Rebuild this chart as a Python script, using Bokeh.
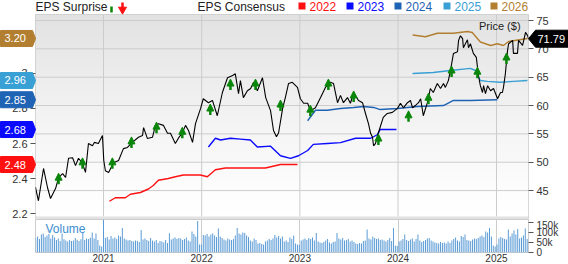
import numpy as np
import pandas as pd
from bokeh.plotting import figure
from bokeh.layouts import column
from bokeh.core.properties import value
from bokeh.models import (Range1d, LinearAxis, FixedTicker, CustomJSTickFormatter,
                          DatetimeTickFormatter, Label, Arrow, NormalHead,
                          ColumnDataSource, Legend, LegendItem)
from bokeh.embed import file_html
from bokeh.resources import INLINE

# ---------------- data ----------------
price_dates = [
    "2020-04-23", "2020-05-04", "2020-05-23", "2020-06-07", "2020-06-18", "2020-07-07", "2020-07-18", "2020-08-02", "2020-08-13", "2020-08-24",
    "2020-09-08", "2020-09-19", "2020-09-30", "2020-10-15", "2020-10-26", "2020-11-06", "2020-11-21", "2020-11-28", "2020-12-13", "2020-12-28",
    "2021-01-02", "2021-01-08", "2021-01-20", "2021-02-07", "2021-02-26", "2021-03-16", "2021-03-31", "2021-04-18", "2021-05-11", "2021-05-26",
    "2021-05-30", "2021-06-13", "2021-07-02", "2021-07-13", "2021-07-24", "2021-08-12", "2021-08-27", "2021-09-07", "2021-09-25", "2021-10-06",
    "2021-10-21", "2021-11-02", "2021-11-13", "2021-11-28", "2021-12-09", "2021-12-28", "2022-01-07", "2022-01-26", "2022-02-10", "2022-02-28",
    "2022-03-19", "2022-04-07", "2022-04-26", "2022-05-06", "2022-05-18", "2022-05-25", "2022-06-05", "2022-06-20", "2022-07-02", "2022-07-13",
    "2022-07-27", "2022-08-15", "2022-08-27", "2022-09-14", "2022-09-25", "2022-10-06", "2022-10-14", "2022-10-29", "2022-11-08", "2022-11-20",
    "2022-12-04", "2022-12-23", "2023-01-03", "2023-01-15", "2023-01-30", "2023-02-09", "2023-02-28", "2023-03-19", "2023-04-06", "2023-04-25",
    "2023-05-06", "2023-05-21", "2023-06-01", "2023-06-12", "2023-06-27", "2023-07-08", "2023-07-20", "2023-08-07", "2023-08-22", "2023-09-02",
    "2023-09-13", "2023-09-21", "2023-09-28", "2023-10-02", "2023-10-09", "2023-10-20", "2023-11-07", "2023-11-22", "2023-12-11", "2023-12-30",
    "2024-01-10", "2024-01-21", "2024-02-05", "2024-02-16", "2024-02-24", "2024-03-05", "2024-03-17", "2024-03-25", "2024-04-04", "2024-04-19",
    "2024-04-30", "2024-05-11", "2024-05-26", "2024-06-07", "2024-06-18", "2024-06-25", "2024-07-06", "2024-07-14", "2024-07-25", "2024-08-09",
    "2024-08-13", "2024-08-20", "2024-08-28", "2024-08-31", "2024-09-15", "2024-09-19", "2024-09-26", "2024-10-07", "2024-10-18", "2024-10-26",
    "2024-11-02", "2024-11-10", "2024-11-14", "2024-11-21", "2024-11-29", "2024-12-10", "2024-12-21", "2025-01-05", "2025-01-16", "2025-01-23",
    "2025-01-27", "2025-02-03", "2025-02-11", "2025-02-15", "2025-03-02", "2025-03-05", "2025-03-20", "2025-03-24", "2025-04-08", "2025-04-19",
    "2025-04-27", "2025-04-30",
]
price_values = [
    45.6, 43.2, 48.9, 45.5, 43.6, 45.4, 47.3, 48.0, 47.3, 50.7,
    50.8, 49.4, 50.7, 49.8, 48.2, 53.3, 52.9, 53.5, 53.3, 54.7,
    50.3, 48.5, 48.2, 49.9, 50.3, 52.4, 52.6, 53.5, 54.4, 54.7,
    56.1, 54.2, 54.4, 56.5, 56.8, 56.5, 55.1, 55.1, 53.3, 54.2,
    55.2, 56.5, 55.6, 53.5, 56.8, 59.5, 61.2, 60.5, 60.9, 58.2,
    62.3, 64.9, 65.3, 65.6, 62.1, 64.4, 61.4, 62.6, 63.0, 64.1,
    62.6, 64.9, 61.4, 59.1, 55.6, 54.5, 55.2, 59.5, 61.4, 63.9,
    64.1, 63.2, 61.2, 60.4, 60.4, 59.1, 59.6, 61.4, 63.2, 64.1,
    63.9, 60.5, 61.8, 60.5, 61.4, 60.4, 62.3, 60.9, 60.5, 58.6,
    56.8, 55.1, 54.4, 52.9, 53.3, 55.2, 57.9, 58.6, 58.8, 59.5,
    60.4, 59.6, 60.5, 60.9, 59.6, 60.0, 60.5, 61.2, 58.2, 60.5,
    63.0, 62.3, 63.9, 63.0, 63.9, 63.2, 64.4, 66.2, 69.2, 69.5,
    71.5, 72.3, 71.8, 70.2, 71.6, 70.2, 70.9, 69.2, 68.5, 65.3,
    63.5, 62.3, 63.5, 62.1, 63.5, 62.6, 63.0, 61.2, 62.3, 62.3,
    63.2, 65.6, 69.7, 70.9, 71.5, 69.2, 69.2, 71.5, 70.6, 72.9,
    72.3, 71.79,
]
last_price = 71.79

# EPS consensus by fiscal year
eps_2022_dates = ["2021-01-23", "2021-02-14", "2021-03-23", "2021-04-11", "2021-05-18", "2021-06-17", "2021-07-05",
                  "2021-07-24", "2021-08-30", "2021-09-25", "2021-10-25", "2021-12-01", "2021-12-27", "2022-01-22",
                  "2022-02-21", "2022-03-30", "2022-05-25", "2022-07-20", "2022-08-26", "2022-10-21", "2022-12-23"]
eps_2022 = [2.27, 2.29, 2.29, 2.31, 2.32, 2.34, 2.36, 2.39, 2.40, 2.41, 2.42, 2.42, 2.42, 2.41,
            2.45, 2.46, 2.46, 2.46, 2.46, 2.48, 2.48]

eps_2023_dates = ["2022-01-26", "2022-02-21", "2022-03-12", "2022-04-18", "2022-05-25", "2022-07-01", "2022-07-27",
                  "2022-09-14", "2022-10-21", "2022-11-27", "2022-12-27", "2023-01-30", "2023-02-20", "2023-04-13",
                  "2023-06-01", "2023-07-27", "2023-09-21", "2023-10-16", "2023-10-27", "2023-12-26"]
eps_2023 = [2.58, 2.63, 2.62, 2.63, 2.625, 2.62, 2.58, 2.585, 2.53, 2.515, 2.53, 2.56, 2.595, 2.60,
            2.605, 2.63, 2.63, 2.65, 2.68, 2.68]

eps_2024_dates = ["2023-01-30", "2023-02-28", "2023-04-13", "2023-06-01", "2023-07-20", "2023-08-26", "2023-10-02",
                  "2023-10-27", "2023-12-30", "2024-03-13", "2024-06-18", "2024-07-25", "2024-09-26", "2025-01-04"]
eps_2024 = [2.73, 2.79, 2.79, 2.80, 2.806, 2.811, 2.806, 2.794, 2.80, 2.811, 2.817, 2.846, 2.846, 2.85]

eps_2025_dates = ["2024-02-24", "2024-05-11", "2024-07-14", "2024-09-26", "2024-10-15", "2024-11-02", "2024-11-28",
                  "2025-01-15", "2025-03-05", "2025-04-26"]
eps_2025 = [3.00, 3.006, 3.017, 3.029, 3.017, 2.96, 2.955, 2.95, 2.955, 2.96]

eps_2026_dates = ["2024-02-24", "2024-04-12", "2024-05-26", "2024-07-25", "2024-09-15", "2024-10-03", "2024-11-02",
                  "2024-12-10", "2025-01-04", "2025-01-27", "2025-02-15", "2025-04-26"]
eps_2026 = [3.22, 3.21, 3.23, 3.23, 3.24, 3.234, 3.18, 3.16, 3.17, 3.16, 3.183, 3.20]

consensus_years = ["2022", "2023", "2024", "2025", "2026"]
consensus_latest = [2.48, 2.68, 2.85, 2.96, 3.20]

# positive EPS surprises (report date, price level of the marker)
surprise_dates = ["2020-07-18", "2020-10-15", "2021-02-03", "2021-04-15", "2021-07-17", "2021-10-21", "2022-02-02",
                  "2022-04-18", "2022-07-20", "2022-10-21", "2023-02-09", "2023-04-17", "2023-07-20", "2023-10-20",
                  "2024-02-09", "2024-04-23", "2024-07-18", "2024-10-22", "2025-02-07"]
surprise_prices = [47.1, 49.8, 49.8, 53.5, 56.1, 55.2, 59.3, 63.7, 63.7, 60.0, 59.1, 63.7, 61.6, 54.0,
                   58.1, 61.2, 66.0, 65.8, 68.3]

# weekly volume (thousands of shares), weeks starting 2020-04-24
volume_start = "2020-04-24"
volume_k = [
    72, 80, 68, 90, 95, 78, 85, 92, 70, 88,
    75, 62, 70, 58, 95, 66, 60, 55, 62, 58,
    60, 72, 64, 58, 66, 98, 62, 70, 68, 74,
    100, 70, 95, 62, 35, 30,
    165,
    72, 78, 65, 82, 70, 75, 68, 85, 80, 122,
    70, 65, 60, 62, 58, 55, 60, 58, 52, 112,
    65, 70, 62, 58, 72, 60, 55, 62, 48, 58,
    55, 50, 62, 48, 96, 65, 70, 75, 68, 72,
    70, 62, 68, 75, 60, 55, 105, 92, 80, 158, 40,
    40, 88, 85, 92, 80, 90, 95, 85, 78, 120,
    80, 72, 65, 60, 70, 65, 62, 68, 85, 122,
    95, 90, 100, 98, 85, 78, 60, 55, 70, 62,
    45, 48, 42, 40, 55, 60, 68, 62, 70, 88,
    75, 82, 70, 80,
    55, 60, 52, 75, 68, 85, 45, 40,
    38, 60, 65, 70, 62, 72, 68, 75, 60, 98,
    55, 50, 48, 52, 60, 68, 50, 45, 52, 55,
    98, 70, 65, 72, 60, 62, 68, 55, 60, 52,
    45, 42, 48, 45, 58, 60, 115, 70, 65, 80,
    72, 68, 70, 62, 65, 60, 55, 62, 72, 58, 123, 35,
    32, 55, 60, 68, 90, 62, 58, 65, 70, 55,
    68, 90, 60, 52, 58, 62, 70, 72, 60, 55,
    50, 48, 45, 52, 48, 50, 45, 55, 48, 60,
    68, 75, 60, 55, 82, 78, 90, 62, 60, 58,
    65, 70, 68, 72, 80, 85, 78, 105, 100, 123, 80, 35, 30,
    40, 70, 78, 72, 68, 65, 115, 80, 95, 110, 90, 118, 70, 75, 85, 120, 68, 82,
]

year_labels = [2021, 2022, 2023, 2024, 2025]
price_ticks = [45, 50, 55, 60, 65, 70, 75]
eps_ticks = [2.2, 2.4, 2.6, 2.8, 3.0, 3.2]
volume_ticks = [0, 50, 100, 150]

# ---------------- layout constants ----------------
FONT = "Liberation Sans"
COLORS = {"2022": "#ff1010", "2023": "#0a0aff", "2024": "#1f63b5", "2025": "#38a0d4", "2026": "#b27f30"}
GREEN = "#0a860a"
RED = "#ff1010"
GRID = "#cccccc"
VOL_COLOR = "#5b9bd5"
AXIS_TEXT = "#333333"

W = 568
P1_H, P2_H = 219, 45
PANEL_L, PANEL_R = 35, 528          # plotting panel, canvas pixels
PANEL_T, PANEL_B = 14, 216
PX_PER_PRICE = 5.669
PX_PER_EPS = 175.04
PRICE_AT_TOP = 76.06                # price at the panel's top edge
EPS_AT_TOP = 3.337                  # consensus EPS at the panel's top edge

X0 = pd.Timestamp("2020-04-23 04:00").value / 1e6
X1 = pd.Timestamp("2025-04-30 00:00").value / 1e6
MS_PER_PX = (X1 - X0) / (PANEL_R - PANEL_L)


def x_at(px):
    return X0 + (px - PANEL_L) * MS_PER_PX


def price_at(py):
    return PRICE_AT_TOP - (py - PANEL_T) / PX_PER_PRICE


def eps_at(py):
    return EPS_AT_TOP - (py - PANEL_T) / PX_PER_EPS


PRICE_HI, PRICE_LO = price_at(PANEL_T), price_at(PANEL_B)
year_ticks = [pd.Timestamp(f"{y}-01-01").value / 1e6 for y in year_labels]

# ---------------- price / EPS panel ----------------
p1 = figure(width=W, height=P1_H,
            x_range=Range1d(X0, X1), y_range=Range1d(price_at(P1_H), PRICE_HI),
            x_axis_type="datetime", x_axis_location=None, y_axis_location="right",
            min_border_left=PANEL_L, min_border_right=W - PANEL_R, min_border_top=PANEL_T, min_border_bottom=0,
            toolbar_location=None, output_backend="svg")
p1.outline_line_color = GRID
p1.background_fill_color = "white"
p1.border_fill_color = "white"
p1.xgrid.grid_line_color = None
p1.ygrid.grid_line_color = None
p1.extra_y_ranges = {"eps": Range1d(eps_at(P1_H), EPS_AT_TOP)}

# soft grey-to-white backdrop of the panel
n_rows = PANEL_B - PANEL_T
grad = np.zeros((n_rows, 1), dtype=np.uint32)
view = grad.view(dtype=np.uint8).reshape((n_rows, 1, 4))
for r in range(n_rows):
    t = r / (n_rows - 1)
    g = int(round(255 - 29 * t ** 1.2))
    view[r, 0, :] = [g, g, g, 255]
p1.image_rgba(image=[grad], x=X0, y=PRICE_LO, dw=X1 - X0, dh=PRICE_HI - PRICE_LO, level="image")

# grid lines limited to the price panel
p1.segment(x0=X0, x1=X1, y0=price_ticks, y1=price_ticks, line_color=GRID, line_width=1)
p1.segment(x0=year_ticks, x1=year_ticks, y0=PRICE_LO, y1=PRICE_HI, line_color=GRID, line_width=1)
# band separating price and volume panels
p1.quad(left=X0, right=X1, bottom=price_at(P1_H), top=PRICE_LO, fill_color="#e2e2e2", line_color=None)

price_axis = p1.yaxis[0]
price_axis.ticker = FixedTicker(ticks=price_ticks)

eps_axis = LinearAxis(y_range_name="eps", ticker=FixedTicker(ticks=eps_ticks),
                      formatter=CustomJSTickFormatter(code="return (Math.round(tick*10)/10).toString()"))
p1.add_layout(eps_axis, "left")

for ax in (price_axis, eps_axis):
    ax.axis_line_color = None
    ax.major_tick_in = 0
    ax.major_tick_out = 5
    ax.minor_tick_line_color = None
    ax.major_tick_line_color = "#555555"
    ax.major_label_standoff = 3
    ax.major_label_text_font = FONT
    ax.major_label_text_font_size = "11px"
    ax.major_label_text_color = AXIS_TEXT

eps_series = [("2022", eps_2022_dates, eps_2022), ("2023", eps_2023_dates, eps_2023),
              ("2024", eps_2024_dates, eps_2024), ("2025", eps_2025_dates, eps_2025),
              ("2026", eps_2026_dates, eps_2026)]
for year, dates, vals in eps_series:
    p1.line(pd.to_datetime(dates), vals, y_range_name="eps", line_color=COLORS[year], line_width=1.4)

p1.line(pd.to_datetime(price_dates), price_values, line_color="black", line_width=1.1)

# surprise arrows
half = 5.5 / PX_PER_PRICE
sp = np.array(surprise_prices)
arrow_src = ColumnDataSource(dict(x=pd.to_datetime(surprise_dates), y0=sp - half, y1=sp + half))
p1.add_layout(Arrow(x_start="x", y_start="y0", x_end="x", y_end="y1", source=arrow_src,
                    line_color=GREEN, line_width=2.5,
                    end=NormalHead(size=7, fill_color=GREEN, line_color=GREEN, line_width=1)))

# price legend
price_key = p1.quad(left=[], right=[], top=[], bottom=[], fill_color="black", line_color="black")
legend = Legend(items=[LegendItem(label="Price ($)", renderers=[price_key])],
                location=(464 - PANEL_L, P1_H - 32), orientation="horizontal",
                glyph_width=10, glyph_height=5, label_height=12, label_standoff=5,
                padding=0, margin=0, spacing=0,
                label_text_font=FONT, label_text_font_size="11px", label_text_color="#222222",
                background_fill_alpha=0, border_line_alpha=0)
p1.add_layout(legend)

# ---- items drawn over the borders (overlay level keeps them unclipped) ----
HEAD_Y = 6
key_px = [298, 346, 394, 443, 490]
head_px = [35, 197] + [k + 11 for k in key_px]
head_text = ["EPS Surprise", "EPS Consensus"] + consensus_years
head_color = ["#222222", "#222222"] + [COLORS[y] for y in consensus_years]
p1.text(x=[x_at(px) for px in head_px], y=[price_at(HEAD_Y)] * len(head_px), text=head_text,
        text_color=head_color, text_font=value(FONT), text_font_size="12px",
        text_baseline="middle", level="overlay")

p1.quad(left=[x_at(k) for k in key_px], right=[x_at(k + 7) for k in key_px],
        top=price_at(2), bottom=price_at(9), fill_color=[COLORS[y] for y in consensus_years],
        line_color=None, level="overlay")

# beat / miss arrows in the header
beat_x, miss_x = x_at(111), x_at(122)
p1.segment(x0=[beat_x, miss_x], x1=[beat_x, miss_x],
           y0=[price_at(6), price_at(2)], y1=[price_at(12), price_at(8)],
           line_color=[GREEN, RED], line_width=2.5, level="overlay")
p1.scatter(x=[beat_x, miss_x], y=[price_at(5), price_at(9)], marker=["triangle", "inverted_triangle"],
           size=8, fill_color=[GREEN, RED], line_color=[GREEN, RED], level="overlay")

# consensus badges over the left axis
bh = 8 / PX_PER_EPS
badge_xs = [[x_at(0), x_at(32), x_at(35), x_at(32), x_at(0)] for _ in consensus_latest]
badge_ys = [[v + bh, v + bh, v, v - bh, v - bh] for v in consensus_latest]
badge_cols = [COLORS[y] for y in consensus_years]
p1.patches(xs=badge_xs, ys=badge_ys, y_range_name="eps", fill_color=badge_cols, line_color=badge_cols,
           level="overlay")
p1.text(x=[x_at(4)] * len(consensus_latest), y=consensus_latest, text=[f"{v:.2f}" for v in consensus_latest],
        y_range_name="eps", text_color="white", text_font=value(FONT), text_font_size="11px",
        text_baseline="middle", level="overlay")

# last price badge over the right axis
ph = 8.5 / PX_PER_PRICE
p1.patches(xs=[[x_at(528), x_at(535), x_at(W), x_at(W), x_at(535)]],
           ys=[[last_price, last_price + ph, last_price + ph, last_price - ph, last_price - ph]],
           fill_color="black", line_color="black", level="overlay")
p1.text(x=[x_at(537)], y=[last_price], text=[f"{last_price:.2f}"], text_color="white",
        text_font=value(FONT), text_font_size="11px", text_baseline="middle", level="overlay")

# ---------------- volume panel ----------------
VOL_TOP = 165
p2 = figure(width=W, height=P2_H, x_range=p1.x_range, y_range=Range1d(0, VOL_TOP),
            x_axis_type="datetime", y_axis_location="right",
            min_border_left=PANEL_L, min_border_right=W - PANEL_R, min_border_top=0, min_border_bottom=0,
            toolbar_location=None, output_backend="svg")
p2.outline_line_color = GRID
p2.background_fill_color = "white"
p2.border_fill_color = "white"
p2.ygrid.grid_line_color = None
p2.xgrid.ticker = FixedTicker(ticks=year_ticks)
p2.xgrid.grid_line_color = GRID

vol_dates = pd.date_range(volume_start, periods=len(volume_k), freq="7D")
p2.vbar(x=vol_dates, top=volume_k, width=MS_PER_PX, fill_color=VOL_COLOR, line_color=None)

p2.add_layout(Label(x=45, y=9, x_units="canvas", y_units="canvas", text="Volume",
                    text_font=FONT, text_font_size="12px", text_color="#3a8dd0", text_baseline="middle"))

xa = p2.xaxis[0]
xa.ticker = FixedTicker(ticks=year_ticks)
xa.formatter = DatetimeTickFormatter(years="%Y", months="%Y", days="%Y", hours="%Y", minutes="%Y")
xa.axis_line_color = None
xa.major_tick_in = 0
xa.major_tick_out = 0
xa.minor_tick_line_color = None
xa.major_label_standoff = 1
xa.major_label_text_font = FONT
xa.major_label_text_font_size = "10px"
xa.major_label_text_color = AXIS_TEXT

va = p2.yaxis[0]
va.ticker = FixedTicker(ticks=volume_ticks)
va.formatter = CustomJSTickFormatter(code="return tick == 0 ? '0' : tick + 'k'")
va.axis_line_color = None
va.major_tick_in = 0
va.major_tick_out = 5
va.minor_tick_line_color = None
va.major_tick_line_color = "#555555"
va.major_label_standoff = 3
va.major_label_text_font = FONT
va.major_label_text_font_size = "10px"
va.major_label_text_color = AXIS_TEXT

layout = column(p1, p2, spacing=0)
open("out.html", "w").write(file_html(layout, INLINE))
